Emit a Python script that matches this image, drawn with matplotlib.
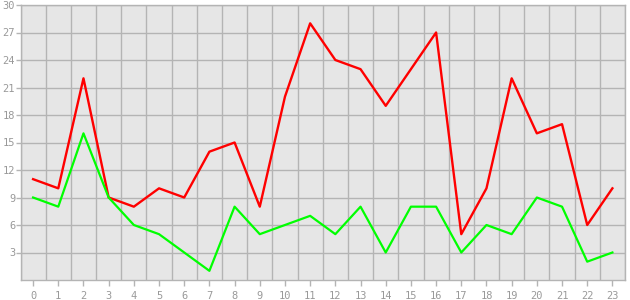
import numpy as np
import matplotlib.pyplot as plt

# datos
categorias = list(range(24))
serie_roja = [11, 10, 22, 9, 8, 10, 9, 14, 15, 8, 20, 28, 24, 23, 19, 23, 27, 5, 10, 22, 16, 17, 6, 10]
serie_verde = [9, 8, 16, 9, 6, 5, 3, 1, 8, 5, 6, 7, 5, 8, 3, 8, 8, 3, 6, 5, 9, 8, 2, 3]
ticks_y = list(range(3, 31, 3))

gris = '#b4b4b4'
gris_texto = '#999999'

fig = plt.figure(figsize=(6.3, 3.0), dpi=100)
ax = fig.add_axes([20.5 / 630, 20 / 300, 604.5 / 630, 275 / 300])
ax.set_facecolor('#e6e6e6')

ax.plot(categorias, serie_roja, color='#ff0000', lw=1.7, zorder=3)
ax.plot(categorias, serie_verde, color='#00ff00', lw=1.6, zorder=3)

# escalas
ax.set_xlim(-0.5, 23.5)
ax.set_ylim(0, 30)
ax.set_xticks(categorias)
ax.set_xticks(np.arange(-0.5, 24, 1), minor=True)
ax.set_yticks(ticks_y)

# rejilla
ax.grid(True, which='minor', axis='x', color=gris, lw=1.0)
ax.grid(True, which='major', axis='y', color=gris, lw=1.0)
ax.set_axisbelow(True)

for s in ax.spines.values():
    s.set_color(gris)
    s.set_linewidth(1.0)

ax.tick_params(axis='both', which='major', colors=gris, labelcolor=gris_texto,
               width=1.0, labelsize=7.5)
ax.tick_params(axis='x', which='major', length=4, pad=4)
ax.tick_params(axis='y', which='major', length=3.5, pad=0.3)
ax.tick_params(axis='x', which='minor', length=0)
for lab in ax.get_xticklabels() + ax.get_yticklabels():
    lab.set_family('DejaVu Sans Mono')

fig.savefig('out.png', dpi=100, facecolor='white')
